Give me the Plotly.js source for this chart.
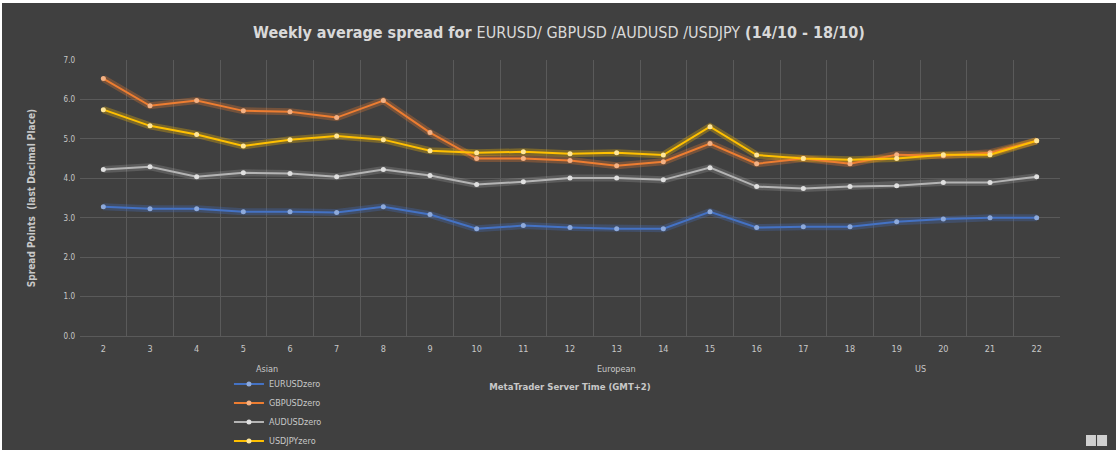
<!DOCTYPE html>
<html><head><meta charset="utf-8">
<script src="https://cdn.plot.ly/plotly-3.0.1.min.js"></script>
<style>
html,body{margin:0;padding:0;background:#ffffff;width:1119px;height:453px;overflow:hidden;}
#chart{position:absolute;left:2px;top:3px;width:1114px;height:447px;background:#404040;}
</style></head><body>
<div id="chart"></div>
<script>
const hours = ['2','3','4','5','6','7','8','9','10','11','12','13','14','15','16','17','18','19','20','21','22'];
const eurusd = [3.28,3.23,3.23,3.15,3.15,3.13,3.28,3.08,2.72,2.80,2.75,2.72,2.72,3.15,2.75,2.77,2.77,2.90,2.97,3.00,3.00];
const gbpusd = [6.53,5.84,5.97,5.71,5.69,5.54,5.97,5.16,4.50,4.50,4.45,4.32,4.42,4.88,4.37,4.50,4.37,4.60,4.57,4.65,4.95];
const audusd = [4.22,4.29,4.04,4.14,4.12,4.04,4.22,4.07,3.84,3.91,4.01,4.01,3.96,4.27,3.79,3.74,3.79,3.81,3.89,3.89,4.04];
const usdjpy = [5.74,5.33,5.11,4.82,4.98,5.07,4.98,4.70,4.65,4.67,4.62,4.65,4.59,5.31,4.59,4.50,4.47,4.50,4.60,4.60,4.95];
const seriesNames = ['EURUSDzero','GBPUSDzero','AUDUSDzero','USDJPYzero'];
const sessionNames = ['Asian','European','US'];
const sessionFirst = ['2','10','17'];
const sessionLast = ['9','16','22'];

const allSeries = [eurusd, gbpusd, audusd, usdjpy];
const lineColors = ['#4472c4','#ed7d31','#b4b4b4','#ffc000'];
const markerColors = ['#8eaadb','#f4b183','#e0e0e0','#ffe699'];
const glowColors = ['rgba(68,114,196,0.30)','rgba(237,125,49,0.30)','rgba(200,200,200,0.20)','rgba(255,192,0,0.30)'];

const traces = [];
allSeries.forEach((ys,i)=>{
  traces.push({x:hours,y:ys,type:'scatter',mode:'lines',showlegend:false,hoverinfo:'skip',
    line:{color:glowColors[i],width:7}});
});
allSeries.forEach((ys,i)=>{
  traces.push({x:hours,y:ys,type:'scatter',mode:'lines+markers',name:seriesNames[i],
    line:{color:lineColors[i],width:2},marker:{color:markerColors[i],size:5}});
});

const font = 'Liberation Sans Narrow, DejaVu Sans Condensed, Arial Narrow, sans-serif';
const annotations = sessionNames.map((n,i)=>{
  const a = hours.indexOf(sessionFirst[i]), b = hours.indexOf(sessionLast[i]);
  return {x:(a+b)/2, xref:'x', y:-0.145, yref:'paper', text:n, showarrow:false,
    font:{family:font,size:9,color:'#c8c8c8'}};
});
annotations.push({x:1.0316,xref:'paper',y:-0.3787,yref:'paper',text:'<b>+</b>',showarrow:false,
  font:{family:font,size:10,color:'#404040'}});
annotations.push({x:1.0429,xref:'paper',y:-0.3787,yref:'paper',text:'<b>−</b>',showarrow:false,
  font:{family:font,size:10,color:'#404040'}});

const layout = {
  width:1114, height:447,
  paper_bgcolor:'#404040', plot_bgcolor:'#404040',
  margin:{l:78,r:56,t:57,b:114, autoexpand:false},
  title:{text:'<b>Weekly average spread for </b>EURUSD/ GBPUSD /AUDUSD /USDJPY<b> (14/10 - 18/10)</b>',
    font:{family:font,size:16,color:'#d9d9d9'}, x:0.5, xanchor:'center', y:0.935, yanchor:'middle'},
  xaxis:{type:'category', range:[-0.5, hours.length-0.5], autorange:false, tickson:'boundaries', showgrid:true, gridcolor:'#5a5a5a', gridwidth:1,
    ticks:'', showline:false, zeroline:false, automargin:false, ticklabelstandoff:6,
    tickfont:{family:font,size:9,color:'#c8c8c8'},
    title:{text:'<b>MetaTrader Server Time (GMT+2)</b>', font:{family:font,size:9.5,color:'#c8c8c8'}, standoff:30}},
  yaxis:{range:[0,7], dtick:1, tickformat:'.1f', showgrid:true, gridcolor:'#5a5a5a', gridwidth:1,
    zeroline:true, zerolinecolor:'#5a5a5a', showline:false, ticks:'', automargin:false, ticklabelstandoff:4,
    tickfont:{family:font,size:8,color:'#c8c8c8'},
    title:{text:'<b>Spread Points  (last Decimal Place)</b>', font:{family:font,size:10,color:'#c8c8c8'}, standoff:26}},
  showlegend:true,
  legend:{x:0.152, xanchor:'left', y:-0.121, yanchor:'top', orientation:'v',
    bgcolor:'rgba(0,0,0,0)', font:{family:font,size:9,color:'#c8c8c8'}, itemwidth:30, tracegroupgap:0},
  annotations:annotations,
  shapes:[
    {type:'rect',xref:'paper',yref:'paper',x0:1.0265,x1:1.0367,y0:-0.3587,y1:-0.3986,fillcolor:'#d0d0d0',line:{width:0}},
    {type:'rect',xref:'paper',yref:'paper',x0:1.0378,x1:1.0480,y0:-0.3587,y1:-0.3986,fillcolor:'#d0d0d0',line:{width:0}}
  ]
};
Plotly.newPlot('chart', traces, layout, {displayModeBar:false, staticPlot:true});
</script>
</body></html>
